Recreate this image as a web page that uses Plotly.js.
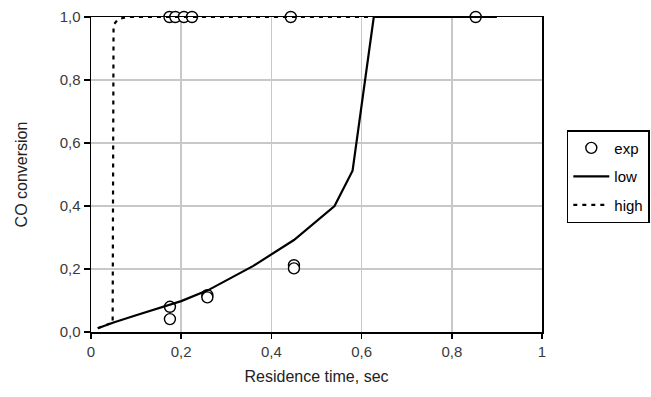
<!DOCTYPE html>
<html>
<head>
<meta charset="utf-8">
<script src="https://cdn.plot.ly/plotly-3.0.1.min.js"></script>
<style>html,body{margin:0;padding:0;background:#fff;}#chart{width:651px;height:397px;}</style>
</head>
<body>
<div id="chart"></div>
<script>
// Experimental points
const expX = [0.174, 0.187, 0.206, 0.224, 0.443, 0.853, 0.175, 0.175, 0.258, 0.258, 0.450, 0.450];
const expY = [1.0, 1.0, 1.0, 1.0, 1.0, 1.0, 0.080, 0.041, 0.117, 0.110, 0.212, 0.202];
// "low" model curve
const lowX = [0.015, 0.05, 0.10, 0.20, 0.26, 0.36, 0.45, 0.54, 0.58, 0.627, 0.70, 0.80, 0.90];
const lowY = [0.012, 0.030, 0.053, 0.098, 0.133, 0.210, 0.292, 0.400, 0.512, 1.0, 1.0, 1.0, 1.0];
// "high" model curve
const highX = [0.015, 0.048, 0.050, 0.060, 0.080, 0.20, 0.40, 0.60, 0.80, 0.90];
const highY = [0.012, 0.030, 0.975, 0.993, 1.0, 1.0, 1.0, 1.0, 1.0, 1.0];

const xTicks = [0, 0.2, 0.4, 0.6, 0.8, 1];
const yTicks = [0, 0.2, 0.4, 0.6, 0.8, 1.0];

const font = "Liberation Sans, Arial, sans-serif";

const traces = [
  {x: expX, y: expY, name: 'exp', mode: 'markers', type: 'scatter', cliponaxis: false,
   legendgroup: 'a',
   marker: {symbol: 'circle', size: 11, color: '#ffffff', line: {color: '#000', width: 1.4}}},
  {x: lowX, y: lowY, name: 'low', mode: 'lines', type: 'scatter', cliponaxis: false,
   legendgroup: 'b',
   line: {color: '#000', width: 2.2}},
  {x: highX, y: highY, name: 'high', mode: 'lines', type: 'scatter', cliponaxis: false,
   legendgroup: 'c',
   line: {color: '#000', width: 2.2, dash: '4px,5px'}}
];

const layout = {
  width: 651, height: 397,
  margin: {l: 91, r: 109, t: 17, b: 65, autoexpand: false},
  paper_bgcolor: '#fff', plot_bgcolor: '#fff',
  separators: ', ',
  font: {family: font, size: 15, color: '#000'},
  showlegend: true,
  legend: {
    x: 1.055, y: 0.641, xanchor: 'left', yanchor: 'top',
    bordercolor: '#000', borderwidth: 1.5,
    font: {family: font, size: 15, color: '#000'},
    traceorder: 'grouped', tracegroupgap: 6,
    itemwidth: 36
  },
  xaxis: {
    range: [0, 1], tickvals: xTicks, ticktext: xTicks.map(v => String(v).replace('.', ',')),
    showgrid: true, gridcolor: '#c8c8c8', gridwidth: 1.5,
    zeroline: false, showline: true, linecolor: '#000', linewidth: 1.5, mirror: true,
    ticks: 'outside', ticklen: 5, tickcolor: '#000', tickwidth: 1.5,
    tickfont: {family: font, size: 15, color: '#3a3a3a'},
    title: {text: 'Residence time, sec', font: {family: font, size: 16, color: '#222'}, standoff: 12}
  },
  yaxis: {
    range: [0, 1], tickvals: yTicks, ticktext: yTicks.map(v => v.toFixed(1).replace('.', ',')),
    showgrid: true, gridcolor: '#c8c8c8', gridwidth: 1.5,
    zeroline: false, showline: true, linecolor: '#000', linewidth: 1.5, mirror: true,
    ticks: 'outside', ticklen: 6, tickcolor: '#000', tickwidth: 1.5,
    tickfont: {family: font, size: 15, color: '#3a3a3a'},
    title: {text: 'CO conversion', font: {family: font, size: 16, color: '#222'}, standoff: 28}
  }
};

Plotly.newPlot('chart', traces, layout, {displayModeBar: false, staticPlot: true});
</script>
</body>
</html>
